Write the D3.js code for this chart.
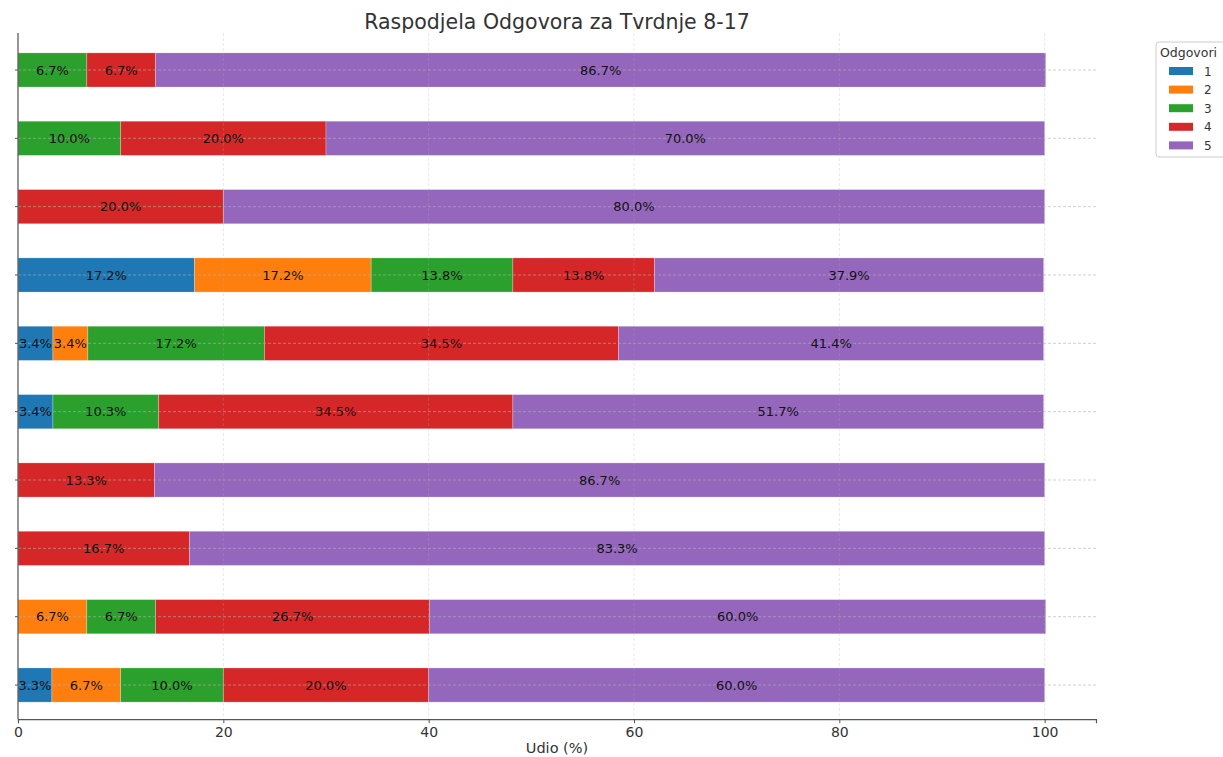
<!DOCTYPE html>
<html>
<head>
<meta charset="utf-8">
<script src="https://cdn.jsdelivr.net/npm/d3@7"></script>
<style>
  body { margin: 0; background: #fff; }
  text { font-family: "DejaVu Sans", sans-serif; }
</style>
</head>
<body>
<svg id="chart" width="1223" height="757"></svg>
<script>
// statements, top to bottom
var categories = ["Tvrdnja 17", "Tvrdnja 16", "Tvrdnja 15", "Tvrdnja 14", "Tvrdnja 13",
                  "Tvrdnja 12", "Tvrdnja 11", "Tvrdnja 10", "Tvrdnja 9", "Tvrdnja 8"];
var answers = ["1", "2", "3", "4", "5"];
// share (%) of each answer per statement
var ans1 = [0, 0, 0, 17.2, 3.4, 3.4, 0, 0, 0, 3.3];
var ans2 = [0, 0, 0, 17.2, 3.4, 0, 0, 0, 6.7, 6.7];
var ans3 = [6.7, 10.0, 0, 13.8, 17.2, 10.3, 0, 0, 6.7, 10.0];
var ans4 = [6.7, 20.0, 20.0, 13.8, 34.5, 34.5, 13.3, 16.7, 26.7, 20.0];
var ans5 = [86.7, 70.0, 80.0, 37.9, 41.4, 51.7, 86.7, 83.3, 60.0, 60.0];
var xTicks = [0, 20, 40, 60, 80, 100];

var colors = ["#1f77b4", "#ff7f0e", "#2ca02c", "#d62728", "#9467bd"];

var svg = d3.select("#chart");

// plot area
var plotLeft = 18, plotRight = 1096, plotTop = 35.8, plotBottom = 719.2;

var x = d3.scaleLinear().domain([0, 105]).range([plotLeft, plotRight]);
var y = d3.scaleBand().domain(categories).range([plotTop, plotBottom])
  .paddingInner(0.5).paddingOuter(0.25);
var color = d3.scaleOrdinal().domain(answers).range(colors);

// build table for stacking
var table = categories.map(function (c, i) {
  return { cat: c, "1": ans1[i], "2": ans2[i], "3": ans3[i], "4": ans4[i], "5": ans5[i] };
});
var series = d3.stack().keys(answers)(table);

// bars
var g = svg.append("g");
series.forEach(function (s) {
  g.selectAll(null)
    .data(s.filter(function (d) { return d[1] - d[0] > 0; }))
    .enter()
    .append("rect")
    .attr("x", function (d) { return x(d[0]); })
    .attr("y", function (d) { return y(d.data.cat); })
    .attr("width", function (d) { return x(d[1]) - x(d[0]); })
    .attr("height", y.bandwidth())
    .attr("fill", color(s.key))
    .attr("stroke", "#fff")
    .attr("stroke-opacity", 0.3)
    .attr("stroke-width", 0.8);
});

// grid on top of bars
var grid = svg.append("g")
  .attr("stroke", "#b0b0b0")
  .attr("stroke-dasharray", "3,2")
  .attr("stroke-width", 0.8);
grid.selectAll(null).data(xTicks).enter().append("line")
  .attr("x1", function (d) { return x(d); })
  .attr("x2", function (d) { return x(d); })
  .attr("y1", 33).attr("y2", plotBottom)
  .attr("stroke-opacity", 0.35);
grid.selectAll(null).data(categories).enter().append("line")
  .attr("x1", plotLeft).attr("x2", plotRight)
  .attr("y1", function (d) { return y(d) + y.bandwidth() / 2; })
  .attr("y2", function (d) { return y(d) + y.bandwidth() / 2; })
  .attr("stroke-opacity", 0.75);

// value labels
var labels = svg.append("g");
series.forEach(function (s) {
  labels.selectAll(null)
    .data(s.filter(function (d) { return d[1] - d[0] > 0; }))
    .enter()
    .append("text")
    .attr("x", function (d) { return x((d[0] + d[1]) / 2); })
    .attr("y", function (d) { return y(d.data.cat) + y.bandwidth() / 2; })
    .attr("dy", "0.35em")
    .attr("text-anchor", "middle")
    .attr("font-size", 13)
    .attr("fill", "#111")
    .text(function (d) { return (d[1] - d[0]).toFixed(1) + "%"; });
});

// x axis
var xAxis = svg.append("g")
  .attr("transform", "translate(0," + plotBottom + ")")
  .call(d3.axisBottom(x).tickValues(xTicks).tickSize(4).tickPadding(4));
xAxis.select(".domain").attr("stroke", "#555").attr("stroke-width", 1.2);
xAxis.selectAll(".tick line").attr("stroke", "#555");
xAxis.selectAll("text").attr("font-size", 14).attr("fill", "#333")
  .style("font-family", "DejaVu Sans, sans-serif");

// y axis, ticks only
var yAxis = svg.append("g")
  .attr("transform", "translate(" + plotLeft + ",0)")
  .call(d3.axisLeft(y).tickSize(3).tickFormat(""));
yAxis.select(".domain").attr("stroke", "#555").attr("stroke-width", 1.2)
  .attr("d", "M0,33V" + plotBottom);
yAxis.selectAll(".tick line").attr("stroke", "#555");

// title + axis label
svg.append("text")
  .attr("x", (plotLeft + plotRight) / 2).attr("y", 29)
  .attr("text-anchor", "middle")
  .attr("font-size", 20.5).attr("fill", "#333")
  .text("Raspodjela Odgovora za Tvrdnje 8-17");
svg.append("text")
  .attr("x", (plotLeft + plotRight) / 2).attr("y", 753)
  .attr("text-anchor", "middle")
  .attr("font-size", 14.5).attr("fill", "#333")
  .text("Udio (%)");

// legend
var leg = svg.append("g").attr("transform", "translate(1156,42)");
leg.append("rect")
  .attr("width", 72).attr("height", 115).attr("rx", 3)
  .attr("fill", "#fff").attr("stroke", "#ccc");
leg.append("text").attr("x", 4).attr("y", 15)
  .attr("font-size", 12.5).attr("fill", "#333").text("Odgovori");
answers.forEach(function (a, i) {
  leg.append("rect")
    .attr("x", 13).attr("y", 25 + i * 18.6)
    .attr("width", 24).attr("height", 8)
    .attr("fill", color(a));
  leg.append("text")
    .attr("x", 48).attr("y", 33.5 + i * 18.6)
    .attr("font-size", 12).attr("fill", "#333").text(a);
});
</script>
</body>
</html>
